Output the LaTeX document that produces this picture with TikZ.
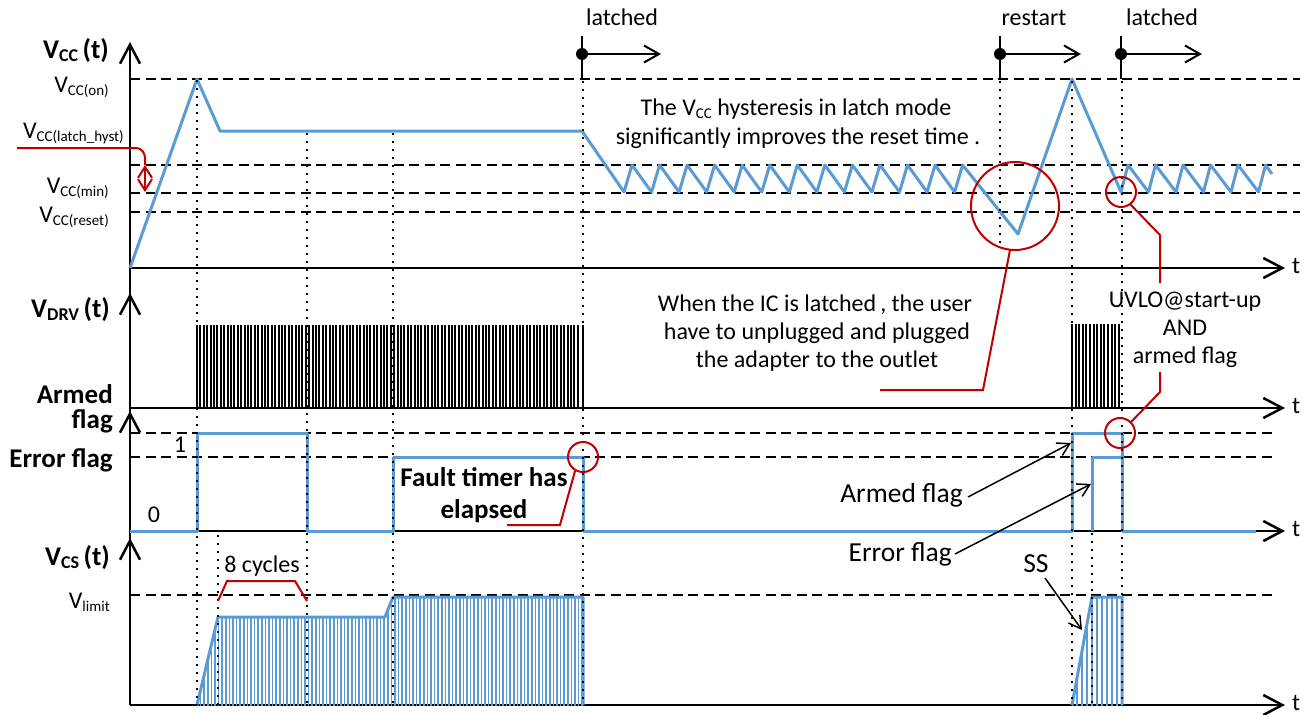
\documentclass[tikz,border=0pt]{standalone}
\usepackage{fontspec}
\setmainfont{Carlito}
\usetikzlibrary{arrows.meta}
\definecolor{wblue}{RGB}{91,155,213}
\definecolor{wred}{RGB}{192,0,0}
\newcommand\lsub[1]{\raisebox{-3pt}{\fontsize{15}{15}\selectfont #1}}
\newcommand\bsub[1]{\raisebox{-3pt}{\fontsize{18}{18}\selectfont\bfseries #1}}
\begin{document}
\begin{tikzpicture}[x=1pt,y=-1pt,
  txt/.style={font=\fontsize{24}{28}\selectfont, inner sep=0pt},
  ltxt/.style={font=\fontsize{27.5}{30}\selectfont, inner sep=0pt},
  btxt/.style={font=\fontsize{27}{30}\selectfont\bfseries, inner sep=0pt},
  axisline/.style={line width=2.5pt, black},
  axtip/.style={-{Straight Barb[length=19pt,width=20pt]}},
  hdash/.style={line width=2.5pt, dash pattern=on 10pt off 5.5pt},
  vdot/.style={line width=2pt, dash pattern=on 2pt off 6pt},
  sig/.style={wblue, line width=3pt, line join=round},
  pulse/.style={line width=1.9pt},
  bpulse/.style={wblue, line width=1.7pt},
  redl/.style={wred, line width=2pt},
  note/.style={black, line width=1.5pt, -{Straight Barb[length=12pt,width=14pt]}},
  markline/.style={line width=2pt},
  markarrow/.style={line width=2pt, -{Straight Barb[length=15pt,width=17pt]}}
]
\useasboundingbox (0,0) rectangle (1315,715);

% ---------- dashed reference lines ----------
\foreach \yy in {79,165,193,212} \draw[hdash] (130,\yy) -- (1300,\yy);
\foreach \yy in {433,457,595} \draw[hdash] (130,\yy) -- (1275,\yy);

% ---------- axes ----------
\draw[axisline] (130,705) -- (130,46);
\foreach \yy in {42,293,411,538} \draw[axisline,axtip] (130,\yy+8) -- (130,\yy);
\foreach \yy in {268,408,531,705} {
  \draw[axisline,axtip] (130,\yy) -- (1285,\yy);
  \node[txt,anchor=west] (t\yy) at (1292,\yy-2) {t};
}

% ---------- left labels ----------
\node[btxt,anchor=base east] (lvcc) at (109,58) {V\bsub{CC}\,(t)};
\node[txt,anchor=base east] (lon) at (109,92) {V\lsub{CC(on)}};
\node[txt,anchor=base east] (lhyst) at (124,138) {V\lsub{CC(latch\_hyst)}};
\node[txt,anchor=base east] (lmin) at (109,193) {V\lsub{CC(min)}};
\node[txt,anchor=base east] (lreset) at (109,222) {V\lsub{CC(reset)}};
\node[btxt,anchor=base east] (ldrv) at (110,317) {V\bsub{DRV}\,(t)};
\node[btxt,anchor=base east] (larm1) at (113,403) {Armed};
\node[btxt,anchor=base east] (larm2) at (113,428) {flag};
\node[btxt,anchor=base east] (lerr) at (113,467) {Error flag};
\node[btxt,anchor=base east] (lcs) at (110,565) {V\bsub{CS}\,(t)};
\node[txt,anchor=base east] (llim) at (110,608) {V\lsub{limit}};
\node[txt,anchor=base] (lone) at (180,452) {1};
\node[txt,anchor=base] (lzero) at (154,522) {0};

% ---------- VDRV pulses ----------
\foreach \x in {197,200.4,...,581} \draw[pulse] (\x,408) -- (\x,325);
\draw[pulse] (583,408) -- (583,325);
\foreach \x in {1072,1075.6,...,1122} \draw[pulse] (\x,408) -- (\x,324);

% ---------- VCS pulses ----------
\begin{scope}
  \clip (197,706) -- (218,617) -- (385,617) -- (393,597) -- (583,597) -- (583,706) -- cycle;
  \foreach \x in {197,200.6,...,583} \draw[bpulse] (\x,706) -- (\x,590);
\end{scope}
\begin{scope}
  \clip (1072,706) -- (1092,597) -- (1122,597) -- (1122,706) -- cycle;
  \foreach \x in {1072,1077,...,1122} \draw[bpulse] (\x,706) -- (\x,590);
\end{scope}
\draw[sig] (197,705) -- (218,617) -- (385,617) -- (393,597) -- (583,597) -- (583,705);
\draw[sig] (1072,705) -- (1092,597) -- (1122,597) -- (1122,705);

% ---------- flags ----------
\draw[sig] (130,531) -- (197,531) -- (197,433) -- (307,433) -- (307,531) -- (393,531)
  -- (393,457) -- (583,457) -- (583,531) -- (1072,531) -- (1072,433) -- (1122,433)
  -- (1122,531) -- (1256,531);
\draw[sig] (1092,531) -- (1092,457) -- (1122,457);

% ---------- VCC waveform ----------
\draw[sig] (130,268) -- (197,79) -- (220,131) -- (582,131) -- (624,192)
  \foreach \k in {0,...,11} { -- ({632+27.55*\k},165) -- ({651.55+27.55*\k},192) }
  -- (962.6,165) -- (1018,234) -- (1072,79) -- (1121,192)
  \foreach \k in {0,...,4} { -- ({1128+27.5*\k},165) -- ({1148.5+27.5*\k},192) }
  -- (1265.5,165) -- (1272,174);

% ---------- dotted verticals ----------
\draw[vdot] (197,80) -- (197,705);
\draw[vdot] (218,535) -- (218,705);
\draw[vdot] (307,133) -- (307,705);
\draw[vdot] (393,133) -- (393,705);
\draw[vdot] (583,81) -- (583,705);
\draw[vdot] (1000,81) -- (1000,245);
\draw[vdot] (1072,81) -- (1072,705);
\draw[vdot] (1092,533) -- (1092,705);
\draw[vdot] (1122,81) -- (1122,705);

% ---------- latched / restart markers ----------
\foreach \mx/\ex/\nm in {582/661/ma, 1000/1081/mb, 1121/1202/mc} {
  \draw[markline] (\mx,36) -- (\mx,79);
  \fill (\mx,54) circle (6);
  \coordinate (\nm s) at (\mx,54);
  \coordinate (\nm e) at (\ex,54);
  \draw[markarrow] (\nm s) -- (\nm e);
}
\node[txt,anchor=base] (tla1) at (622,25) {latched};
\node[txt,anchor=base] (trs) at (1034,25) {restart};
\node[txt,anchor=base] (tla2) at (1162,25) {latched};

% ---------- texts ----------
\node[txt,anchor=base] (hy1) at (796,115) {The V\lsub{CC} hysteresis in latch mode};
\node[txt,anchor=base] (hy2) at (798,144) {significantly improves the reset time .};
\node[txt,anchor=base] (wh1) at (815,311) {When the IC is latched\,, the user};
\node[txt,anchor=base] (wh2) at (817,339) {have to unplugged and plugged};
\node[txt,anchor=base] (wh3) at (817,367) {the adapter to the outlet};
\node[txt,anchor=base] (uv1) at (1185,307) {UVLO@start-up};
\node[txt,anchor=base] (uv2) at (1185,335) {AND};
\node[txt,anchor=base] (uv3) at (1185,363) {armed flag};
\node[btxt,anchor=base] (ft1) at (484,486) {Fault timer has};
\node[btxt,anchor=base] (ft2) at (484,518) {elapsed};
\node[ltxt,anchor=base east] (naf) at (963,502) {Armed flag};
\node[ltxt,anchor=base east] (nef) at (952,561) {Error flag};
\node[ltxt,anchor=base] (nss) at (1036,572) {SS};
\node[txt,anchor=base] (ncy) at (262,572) {8 cycles};

% ---------- black annotation arrows ----------
\coordinate (afT) at (1071,443);
\coordinate (efT) at (1091,484);
\coordinate (ssT) at (1082,630);
\draw[note] (968,497) -- (afT);
\draw[note] (955,554) -- (efT);
\draw[note] (1045,578) -- (ssT);

% ---------- red annotations ----------
\draw[redl] (17,148) -- (136,148) to[out=0,in=90] (145,158) -- (145,165);
\draw[redl, {Straight Barb[length=11pt,width=14pt]}-{Straight Barb[length=11pt,width=14pt]}] (145,165) -- (145,192);
\draw[redl] (218,601) -- (227,581) -- (295,581) -- (307,601);
\node[redl,draw,circle,minimum size=30pt,inner sep=0pt] (cft) at (583,457) {};
\draw[redl] (575,471) -- (560,525) -- (507,525);
\node[redl,draw,circle,minimum size=88pt,inner sep=0pt] (cbig) at (1015,206) {};
\draw[redl] (1010,250) -- (983,390) -- (880,390);
\node[redl,draw,circle,minimum size=30pt,inner sep=0pt] (csm1) at (1121,192) {};
\draw[redl] (1130,204) -- (1160,235) -- (1160,283);
\node[redl,draw,circle,minimum size=30pt,inner sep=0pt] (csm2) at (1120,433) {};
\draw[redl] (1160,372) -- (1160,392) -- (1131,422);
\end{tikzpicture}
\end{document}
